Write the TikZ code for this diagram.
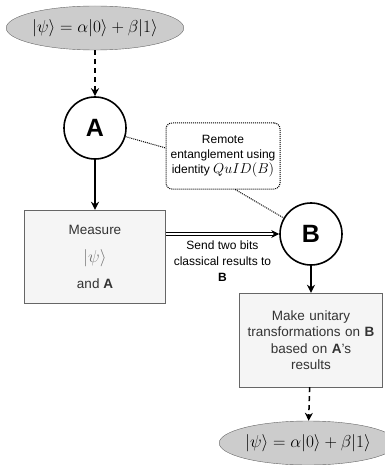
\documentclass[tikz,border=0pt]{standalone}
\usepackage{fontspec}
\setmainfont{Liberation Sans}
\usetikzlibrary{arrows.meta,shapes.geometric}
\newcommand{\qmath}[1]{{\fontsize{16.5}{18}\selectfont$#1$}}
\begin{document}
\begin{tikzpicture}[x=1pt,y=-1pt,
    qstate/.style={ellipse,draw=black!60,fill=black!20,minimum width=161pt,minimum height=44pt,inner sep=0pt},
    party/.style={circle,draw,line width=1.6pt,minimum size=62pt,inner sep=0pt,font=\fontsize{25}{25}\selectfont\bfseries},
    stepbox/.style={draw=black!60,fill=black!4,text=black!80,align=center,inner sep=2pt,font=\fontsize{13.5}{16.5}\selectfont},
    notebox/.style={draw,densely dotted,line width=1pt,rounded corners=6pt,align=center,minimum width=114pt,minimum height=66pt,inner sep=0pt,font=\fontsize{12}{15}\selectfont},
    link/.style={line width=1pt,densely dotted},
    arr/.style={line width=1.5pt,-{Stealth[length=8pt,width=8pt]}},
    dasharr/.style={arr,dash pattern=on 5pt off 4pt}]
\useasboundingbox (0,0) rectangle (384,465);
\node[qstate] (top) at (95,28) {\qmath{|\psi\rangle=\alpha|0\rangle+\beta|1\rangle}};
\node[party] (A) at (95,128) {A};
\node[notebox] (note) at (223,156) {Remote\\entanglement using\\identity {\fontsize{15}{15}\selectfont$QuID(B)$}};
\node[party] (B) at (311,234) {B};
\node[stepbox,minimum width=141pt,minimum height=93pt] (meas) at (95,256.5) {Measure\\[12pt]{\color{black!55}\qmath{|\psi\rangle}}\\[9pt]and \textbf{A}};
\node[stepbox,minimum width=143pt,minimum height=94pt,text width=137pt] (unit) at (311,340) {Make unitary\\transformations on \textbf{B}\\based on \textbf{A}'s\\results};
\node[qstate,minimum width=155pt] (bot) at (308,443) {\qmath{|\psi\rangle=\alpha|0\rangle+\beta|1\rangle}};
% arrows
\draw[dasharr] (top) -- (A);
\draw[arr] (A) -- (meas);
\draw[link] (A) -- (note.172);
\draw[link] (note.290) -- (B);
\draw[double,double distance=2pt,thick,-{Stealth[length=8pt,width=8pt]}] (B.west -| meas.east) -- (B.west)
    node[midway,below=3pt,align=center,font=\fontsize{12}{16}\selectfont] (send) {Send two bits\\classical results to\\\textbf{B}};
\draw[arr] (B) -- (unit);
\draw[dasharr] (unit) -- (bot);
\end{tikzpicture}
\end{document}
